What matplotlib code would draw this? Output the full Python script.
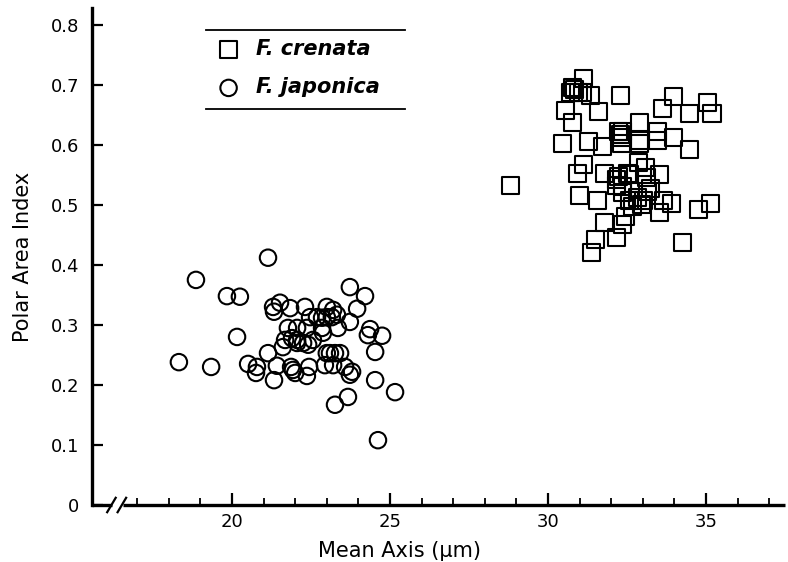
import matplotlib
matplotlib.use("Agg")
import matplotlib.pyplot as plt
from matplotlib.lines import Line2D

plt.rcParams['font.family'] = ['DejaVu Sans']

# F. crenata (squares)
crenata_x = [28.80, 31.11, 30.76, 30.85, 30.95, 30.70, 31.08, 31.33, 30.54, 30.79,
             31.61, 32.28, 30.47, 31.27, 31.74, 32.22, 32.28, 32.37, 32.34, 32.91,
             32.91, 33.45, 33.45, 33.96, 33.96, 33.61, 34.49, 35.06, 35.19, 34.49,
             31.11, 30.92, 31.80, 31.01, 31.58, 32.22, 32.18, 32.37, 32.53, 32.85,
             33.07, 33.13, 33.54, 32.37, 32.59, 32.82, 33.01, 33.16, 32.66, 32.97,
             33.54, 33.92, 34.75, 35.13, 34.27, 32.44, 31.80, 32.37, 32.18, 31.49,
             31.39, 32.91, 32.34, 32.18, 32.59, 33.64, 33.23]
crenata_y = [0.532, 0.710, 0.695, 0.692, 0.688, 0.687, 0.687, 0.683, 0.658, 0.637,
             0.655, 0.682, 0.603, 0.605, 0.597, 0.623, 0.617, 0.622, 0.612, 0.638,
             0.608, 0.622, 0.608, 0.613, 0.680, 0.660, 0.652, 0.670, 0.653, 0.593,
             0.567, 0.553, 0.553, 0.515, 0.508, 0.547, 0.533, 0.530, 0.553, 0.570,
             0.563, 0.545, 0.550, 0.520, 0.508, 0.513, 0.508, 0.522, 0.497, 0.500,
             0.487, 0.503, 0.492, 0.503, 0.437, 0.480, 0.470, 0.467, 0.445, 0.442,
             0.420, 0.603, 0.603, 0.542, 0.550, 0.508, 0.528]

# F. japonica (circles)
japonica_x = [21.14, 18.86, 19.84, 20.25, 20.16, 18.32, 19.34, 20.51, 20.79, 20.76,
              21.33, 21.14, 21.42, 21.87, 22.00, 22.37, 22.44, 21.30, 21.52, 21.84,
              21.33, 21.77, 21.68, 21.61, 21.90, 22.06, 22.31, 22.47, 22.37, 22.25,
              22.41, 22.56, 22.69, 22.85, 23.00, 23.00, 23.20, 23.32, 23.35, 23.73,
              23.73, 24.21, 23.96, 24.37, 24.30, 24.75, 24.53, 23.00, 23.10, 23.26,
              22.94, 23.20, 23.58, 23.80, 23.73, 24.53, 25.16, 23.67, 23.26, 24.62,
              22.88, 22.06, 22.85, 23.16, 22.06, 21.93, 23.42]
japonica_y = [0.412, 0.375, 0.348, 0.347, 0.280, 0.238, 0.230, 0.235, 0.230, 0.220,
              0.208, 0.253, 0.232, 0.230, 0.220, 0.215, 0.230, 0.330, 0.337, 0.328,
              0.322, 0.295, 0.275, 0.263, 0.278, 0.275, 0.330, 0.313, 0.295, 0.270,
              0.267, 0.275, 0.313, 0.295, 0.330, 0.313, 0.325, 0.317, 0.295, 0.305,
              0.363, 0.348, 0.327, 0.293, 0.283, 0.282, 0.255, 0.253, 0.253, 0.253,
              0.233, 0.233, 0.230, 0.222, 0.217, 0.208, 0.188, 0.180, 0.167, 0.108,
              0.287, 0.295, 0.312, 0.313, 0.270, 0.225, 0.253]

y_ticks = [0, 0.1, 0.2, 0.3, 0.4, 0.5, 0.6, 0.7, 0.8]
y_tick_labels = ['0', '0.1', '0.2', '0.3', '0.4', '0.5', '0.6', '0.7', '0.8']
x_major = [20, 25, 30, 35]
x_minor = list(range(17, 38))

fig = plt.figure(figsize=(7.88, 5.62), dpi=100)
ax = fig.add_axes([92 / 788, 57 / 562, 693 / 788, 497 / 562])

ax.scatter(crenata_x, crenata_y, marker='s', s=150, facecolors='none',
           edgecolors='black', linewidths=1.5, label='F. crenata')
ax.scatter(japonica_x, japonica_y, marker='o', s=140, facecolors='none',
           edgecolors='black', linewidths=1.5, label='F. japonica')

xmin, xmax = 15.57, 37.5
ax.set_xlim(xmin, xmax)
ax.set_ylim(0, 0.828)

for s in ['top', 'right', 'bottom']:
    ax.spines[s].set_visible(False)
ax.spines['left'].set_linewidth(2.4)

# broken x axis drawn by hand
ax.plot([xmin, 16.2], [0, 0], color='black', lw=2.4, clip_on=False, solid_capstyle='butt')
ax.plot([16.55, xmax], [0, 0], color='black', lw=2.4, clip_on=False, solid_capstyle='butt')
for bx in [16.05, 16.38]:
    ax.plot([bx, bx + 0.27], [-0.012, 0.012], color='black', lw=1.6, clip_on=False)

ax.set_yticks(y_ticks)
ax.set_yticklabels(y_tick_labels)
ax.set_xticks(x_major)
ax.set_xticks(x_minor, minor=True)
ax.tick_params(axis='y', direction='in', length=8, width=1.6, labelsize=13, pad=9)
ax.tick_params(axis='x', which='major', direction='in', length=9, width=1.6, labelsize=13, pad=6)
ax.tick_params(axis='x', which='minor', direction='in', length=5, width=1.3)
ax.get_yticklabels()[0].set_y(-0.018)

ax.set_xlabel('Mean Axis (μm)', fontsize=15)
ax.xaxis.set_label_coords((400 - 92) / 693, -0.072)
ax.set_ylabel('Polar Area Index', fontsize=15)
ax.yaxis.set_label_coords(-0.085, 0.5)

leg = fig.legend(loc='center left', bbox_to_anchor=(189 / 788, 1 - 68 / 562),
                 frameon=False, handletextpad=0.3, labelspacing=0.9,
                 prop={'style': 'italic', 'weight': 'bold', 'size': 15})
fig.add_artist(Line2D([206 / 788, 405 / 788], [1 - 30 / 562, 1 - 30 / 562], color='black', lw=1.3))
fig.add_artist(Line2D([206 / 788, 405 / 788], [1 - 109 / 562, 1 - 109 / 562], color='black', lw=1.3))

fig.savefig('out.png', dpi=100)
